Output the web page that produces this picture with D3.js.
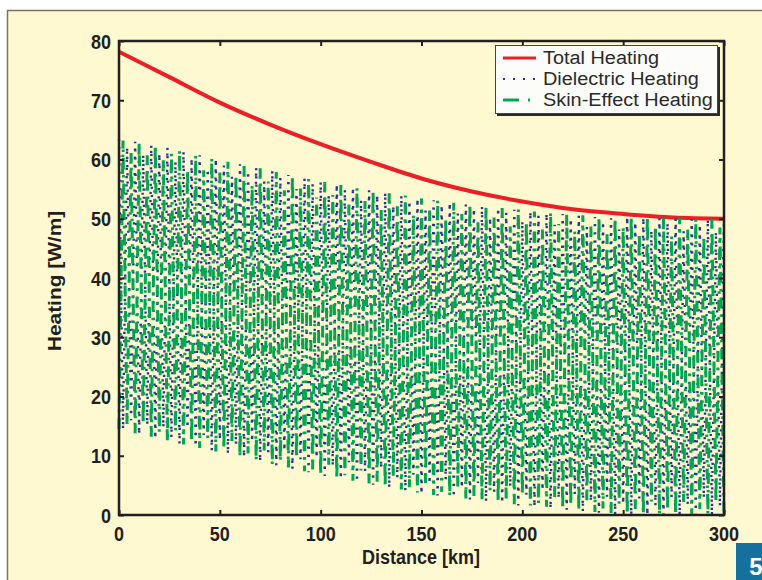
<!DOCTYPE html>
<html>
<head>
<meta charset="utf-8">
<script src="https://cdn.jsdelivr.net/npm/d3@7"></script>
<style>
  body { margin: 0; background: #fff; }
  svg { display: block; }
  text { font-family: "Liberation Sans", Arial, sans-serif; }
</style>
</head>
<body>
<svg id="chart" width="762" height="580"></svg>
<script>
// total heating read every 25 km
const totalKm = [0, 25, 50, 75, 100, 125, 150, 175, 200, 225, 250, 275, 300]
const totalHeating = [78.2, 73.9, 69.6, 65.9, 62.6, 59.6, 56.8, 54.6, 52.9, 51.6, 50.8, 50.2, 50.0]

// the two components are sampled every 2 km (0..300), they swing
// between the top and bottom of the band on every sample
const sampleStepKm = 2
const dielectricHeating = [
  63.5, 14.5, 62.1, 16.0, 63.0, 13.6, 60.8, 15.2, 62.4, 12.9,
  61.0, 14.8, 62.0, 13.1, 59.6, 12.0, 61.3, 14.7, 60.2, 11.6,
  60.7, 13.5, 58.4, 10.9, 60.1, 12.7, 59.0, 10.3, 57.1, 11.9,
  59.2, 9.8, 58.0, 12.4, 58.6, 9.0, 56.3, 10.6, 58.1, 8.4,
  56.9, 10.9, 57.4, 7.8, 55.0, 9.4, 56.8, 7.2, 55.9, 9.7,
  56.2, 6.6, 54.0, 8.3, 55.8, 6.1, 54.9, 8.9, 55.3, 5.6,
  53.1, 7.4, 54.8, 5.1, 54.0, 7.9, 54.4, 4.6, 52.2, 6.3,
  53.9, 4.1, 53.0, 6.8, 53.4, 3.6, 51.4, 5.3, 53.1, 3.3,
  52.3, 6.0, 52.7, 3.0, 50.9, 4.6, 52.4, 2.6, 51.7, 5.4,
  52.1, 2.3, 50.2, 3.9, 51.8, 2.0, 51.0, 4.8, 51.5, 1.6,
  49.6, 3.4, 51.2, 1.4, 50.5, 4.2, 50.9, 1.1, 49.0, 2.8,
  50.8, 0.9, 50.0, 3.5, 50.5, 0.6, 48.6, 2.3, 50.3, 0.4,
  49.5, 3.1, 50.1, 0.1, 48.2, 1.9, 50.3, 0.0, 49.4, 2.8,
  50.2, 0.0, 48.0, 1.6, 50.1, 0.0, 49.3, 3.0, 50.0, 0.0,
  47.9, 1.8, 49.9, 0.0, 49.0, 2.9, 49.9, 0.0, 47.8, 1.5,
  49.8
]
const skinEffectHeating = [
  14.5, 63.2, 15.3, 61.1, 13.8, 62.9, 15.4, 60.7, 13.2, 62.4,
  14.0, 59.9, 12.4, 61.0, 14.2, 61.5, 11.9, 58.2, 12.4, 60.7,
  11.3, 58.2, 13.0, 60.2, 10.7, 57.8, 11.2, 59.6, 12.5, 57.4,
  9.8, 58.9, 10.4, 55.7, 9.2, 58.5, 10.9, 56.3, 8.5, 57.9,
  9.1, 54.8, 8.0, 57.3, 9.8, 55.1, 7.4, 56.7, 7.7, 53.6,
  6.8, 56.2, 8.5, 54.0, 6.2, 55.7, 6.7, 52.4, 5.8, 55.2,
  7.5, 53.0, 5.3, 54.8, 5.6, 51.5, 4.8, 54.3, 6.5, 52.1,
  4.3, 53.9, 4.7, 50.7, 3.8, 53.4, 5.4, 51.4, 3.4, 53.1,
  3.9, 50.0, 3.2, 52.7, 4.7, 50.8, 2.8, 52.5, 3.2, 49.4,
  2.5, 52.1, 4.1, 50.2, 2.2, 51.8, 2.6, 48.7, 1.8, 51.6,
  3.4, 49.5, 1.6, 51.2, 2.0, 48.2, 1.4, 51.1, 3.0, 49.1,
  1.0, 50.8, 1.6, 47.9, 0.8, 50.6, 2.5, 48.7, 0.5, 50.3,
  1.1, 47.4, 0.3, 50.1, 1.9, 48.6, 0.1, 50.4, 1.0, 47.6,
  0.1, 50.3, 2.3, 48.7, 0.1, 50.2, 0.9, 47.1, 0.1, 50.1,
  2.2, 48.2, 0.1, 50.0, 1.0, 47.1, 0.1, 50.0, 2.2, 48.5,
  0.2
]

const xTicks = [0, 50, 100, 150, 200, 250, 300]
const yTicks = [0, 10, 20, 30, 40, 50, 60, 70, 80]
const legendLabels = ['Total Heating', 'Dielectric Heating', 'Skin-Effect Heating']

const colors = { total: '#ec1f26', diel: '#2e3192', skin: '#00a651' }
const ink = '#231f20'
const paper = '#fef9d0'

const svg = d3.select('#chart')

// page frame
svg.append('rect').attr('x', 7.5).attr('y', 10.5).attr('width', 800).attr('height', 600)
    .attr('fill', paper).attr('stroke', '#7a7560').attr('stroke-width', 1.5)

const plot = { left: 119, right: 724, top: 41, bottom: 515 }
const x = d3.scaleLinear().domain([0, 300]).range([plot.left, plot.right])
const y = d3.scaleLinear().domain([0, 80]).range([plot.bottom, plot.top])

const g = svg.append('g')

// series
const sampleKm = dielectricHeating.map((d, i) => i * sampleStepKm)

const smoothLine = d3.line().x(d => x(d[0])).y(d => y(d[1])).curve(d3.curveMonotoneX)
const rawLine = d3.line().x(d => x(d[0])).y(d => y(d[1]))

g.append('path')
    .datum(totalKm.map((k, i) => [k, totalHeating[i]]))
    .attr('d', smoothLine)
    .attr('fill', 'none').attr('stroke', colors.total).attr('stroke-width', 4)

g.append('path')
    .datum(sampleKm.map((k, i) => [k, dielectricHeating[i]]))
    .attr('d', rawLine)
    .attr('fill', 'none').attr('stroke', colors.diel).attr('stroke-width', 2.4)
    .attr('stroke-dasharray', '2.2,6')

g.append('path')
    .datum(sampleKm.map((k, i) => [k, skinEffectHeating[i]]))
    .attr('d', rawLine)
    .attr('fill', 'none').attr('stroke', colors.skin).attr('stroke-width', 3)
    .attr('stroke-dasharray', '11,6,2.5,6')

// axes, ticks inside on all four sides
const tickLen = 5
const axB = svg.append('g').attr('transform', `translate(0,${plot.bottom})`)
    .call(d3.axisBottom(x).tickValues(xTicks).tickSize(-tickLen).tickFormat(''))
const axT = svg.append('g').attr('transform', `translate(0,${plot.top})`)
    .call(d3.axisTop(x).tickValues(xTicks).tickSize(-tickLen).tickFormat(''))
const axL = svg.append('g').attr('transform', `translate(${plot.left},0)`)
    .call(d3.axisLeft(y).tickValues(yTicks).tickSize(-tickLen).tickFormat(''))
const axR = svg.append('g').attr('transform', `translate(${plot.right},0)`)
    .call(d3.axisRight(y).tickValues(yTicks).tickSize(-tickLen).tickFormat(''))

;[axB, axT, axL, axR].forEach(a => {
    a.select('.domain').remove()
    a.selectAll('line').attr('stroke', ink).attr('stroke-width', 2)
})

svg.append('rect')
    .attr('x', plot.left).attr('y', plot.top)
    .attr('width', plot.right - plot.left).attr('height', plot.bottom - plot.top)
    .attr('fill', 'none').attr('stroke', ink).attr('stroke-width', 2.5)

// tick labels (the scan is stretched a bit vertically)
const stretch = 1.16
svg.append('g').selectAll('text').data(xTicks).enter().append('text')
    .attr('transform', d => `translate(${x(d)},541) scale(1,${stretch})`)
    .attr('text-anchor', 'middle')
    .attr('font-size', 18).attr('font-weight', 'bold').attr('fill', ink)
    .text(d => d)

svg.append('g').selectAll('text').data(yTicks).enter().append('text')
    .attr('transform', d => `translate(111,${y(d) + 7.5}) scale(1,${stretch})`)
    .attr('text-anchor', 'end')
    .attr('font-size', 18).attr('font-weight', 'bold').attr('fill', ink)
    .text(d => d)

svg.append('text')
    .attr('transform', `translate(421,564) scale(1,${stretch})`)
    .attr('text-anchor', 'middle')
    .attr('font-size', 18).attr('font-weight', 'bold').attr('fill', ink)
    .text('Distance [km]')

svg.append('text')
    .attr('transform', `translate(61,281) rotate(-90) scale(${stretch},1)`)
    .attr('text-anchor', 'middle')
    .attr('font-size', 18).attr('font-weight', 'bold').attr('fill', ink)
    .text('Heating [W/m]')

// legend
const lg = svg.append('g').attr('transform', 'translate(495,45)')
lg.append('rect').attr('x', 2).attr('y', 2).attr('width', 223).attr('height', 69).attr('fill', '#2b2b2b')
lg.append('rect').attr('x', 0.5).attr('y', 0.5).attr('width', 222).attr('height', 68)
    .attr('fill', '#fcfcfa').attr('stroke', '#444').attr('stroke-width', 1)

const rowY = [13, 34, 55]
const sampleStyles = [
    { color: colors.total, w: 3, dash: null },
    { color: colors.diel, w: 2, dash: '2,8' },
    { color: colors.skin, w: 3, dash: '16,9,2,9' }
]
legendLabels.forEach((label, i) => {
    const s = sampleStyles[i]
    lg.append('line').attr('x1', 8).attr('x2', 41).attr('y1', rowY[i]).attr('y2', rowY[i])
        .attr('stroke', s.color).attr('stroke-width', s.w)
        .attr('stroke-dasharray', s.dash)
    lg.append('text')
        .attr('transform', `translate(48,${rowY[i] + 6}) scale(1.17,1.06)`)
        .attr('font-size', 17).attr('fill', '#2a2a2a')
        .text(label)
})

// figure number badge
svg.append('rect').attr('x', 736).attr('y', 543).attr('width', 30).attr('height', 40).attr('fill', '#16709e')
svg.append('text').attr('x', 756).attr('y', 575).attr('text-anchor', 'middle')
    .attr('font-size', 24).attr('font-weight', 'bold').attr('fill', '#fff')
    .text('5')
</script>
</body>
</html>
